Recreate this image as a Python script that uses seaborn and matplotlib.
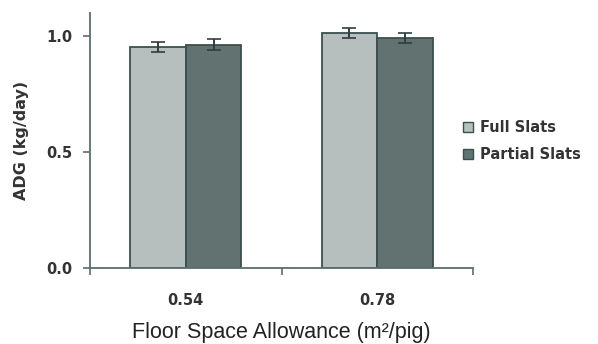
import pandas as pd
import matplotlib.pyplot as plt
import seaborn as sns
from matplotlib.patches import Patch

sns.set_theme(style="white")
plt.rcParams['font.family'] = ['DejaVu Sans']

# Données
space = ["0.54", "0.78"]
floors = ["Full Slats", "Partial Slats"]
adg_full = [0.953, 1.013]
adg_partial = [0.963, 0.991]
err_full = [0.023, 0.021]
err_partial = [0.023, 0.022]

df = pd.DataFrame({
    "space": space + space,
    "floor": [floors[0]] * 2 + [floors[1]] * 2,
    "adg": adg_full + adg_partial,
    "err": err_full + err_partial,
})

colors = {"Full Slats": "#b4c1bf", "Partial Slats": "#5e7574"}
edge = "#3a504f"
axis_col = "#5b6e6c"
txt = "#333333"

fig = plt.figure(figsize=(5.98, 3.44), dpi=100)
ax = fig.add_axes([0.1505, 0.221, 0.6405, 0.741])

sns.barplot(data=df, x="space", y="adg", hue="floor", palette=colors,
            width=0.58, gap=0, edgecolor=edge, linewidth=1.3, errorbar=None,
            legend=False, ax=ax)

# barres d'erreur placées au centre de chaque barre
for patch, (_, row) in zip(ax.patches, df.iterrows()):
    cx = patch.get_x() + patch.get_width() / 2
    ax.errorbar(cx, patch.get_height(), yerr=row["err"], fmt="none",
                ecolor="#2f3f3e", elinewidth=1.4, capsize=5, capthick=1.2)

ax.set_xlim(-0.5, 1.5)
ax.set_ylim(0, 1.1)
ax.set_yticks([0.0, 0.5, 1.0])
ax.set_yticklabels(["0.0", "0.5", "1.0"])
ax.set_xticks([-0.5, 0.5, 1.5], minor=True)
ax.tick_params(axis="x", which="minor", bottom=True, length=5, width=1.2,
               color=axis_col, direction="out")
ax.tick_params(axis="x", which="major", bottom=True, length=0, pad=18)
ax.tick_params(axis="y", left=True, length=5, width=1.2, color=axis_col,
               direction="out", pad=8)
for lab in ax.get_xticklabels() + ax.get_yticklabels():
    lab.set_fontweight("bold")
    lab.set_fontsize(10.5)
    lab.set_color(txt)

sns.despine(ax=ax)
for s in ["left", "bottom"]:
    ax.spines[s].set_color(axis_col)
    ax.spines[s].set_linewidth(1.3)

ax.set_xlabel("Floor Space Allowance (m²/pig)", fontsize=15.5, color="#222222",
              labelpad=10, family="Liberation Sans")
ax.set_ylabel("ADG (kg/day)", fontsize=11.5, fontweight="bold", color=txt, labelpad=12)

handles = [Patch(facecolor=colors[f], edgecolor=edge, linewidth=1) for f in floors]
leg = fig.legend(handles, floors, loc="center left", bbox_to_anchor=(0.752, 0.59),
                 frameon=False, handlelength=0.7, handleheight=0.7,
                 handletextpad=0.45, labelspacing=0.85,
                 prop={"weight": "bold", "size": 10.5})
for t in leg.get_texts():
    t.set_color(txt)

plt.savefig("out.png", dpi=100)
